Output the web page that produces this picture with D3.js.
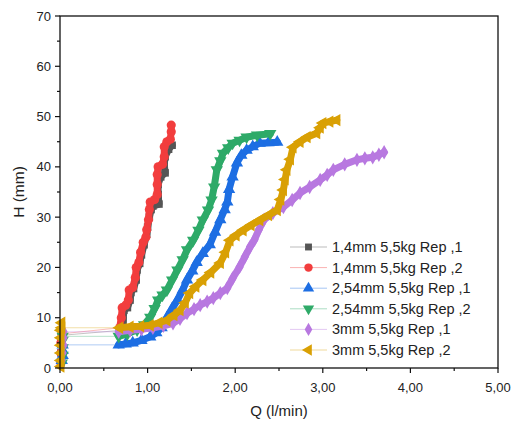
<!DOCTYPE html>
<html>
<head>
<meta charset="utf-8">
<script src="https://cdn.jsdelivr.net/npm/d3@7"></script>
<style>
  body { margin: 0; background: #fff; }
  text { font-family: "Liberation Sans", Arial, sans-serif; fill: #222; }
</style>
</head>
<body>
<div id="chart"></div>
<script>
// 시리즈 이름
const seriesNames = [
    '1,4mm 5,5kg Rep ,1',
    '1,4mm 5,5kg Rep ,2',
    '2,54mm 5,5kg Rep ,1',
    '2,54mm 5,5kg Rep ,2',
    '3mm 5,5kg Rep ,1',
    '3mm 5,5kg Rep ,2'
];

// 각 시리즈 데이터 [Q, H]
const rep14_1 = [
    [0.01, 1.0], [0.01, 3.0], [0.01, 5.0], [0.02, 6.5],
    [0.70, 7.5], [0.72, 9.5], [0.73, 11.5], [0.77, 12.0], [0.80, 13.5], [0.81, 15.0],
    [0.84, 15.8], [0.87, 17.5], [0.88, 19.5], [0.91, 20.8], [0.93, 22.5], [0.96, 24.5],
    [0.99, 26.6], [1.00, 28.0], [1.02, 30.0], [1.04, 31.5], [1.06, 32.2], [1.13, 32.6],
    [1.12, 34.5], [1.12, 36.5], [1.15, 38.0], [1.20, 38.8], [1.19, 40.5], [1.20, 42.0],
    [1.24, 43.5], [1.28, 44.3]
];
const rep14_2 = [
    [0.01, 1.0], [0.01, 3.0], [0.01, 5.0], [0.02, 6.8],
    [0.68, 8.0], [0.70, 10.0], [0.71, 12.0], [0.75, 12.5], [0.78, 13.5], [0.79, 15.5],
    [0.83, 16.0], [0.86, 18.0], [0.87, 20.0], [0.90, 21.0], [0.92, 23.0], [0.95, 25.0],
    [0.98, 26.0], [0.99, 27.5], [1.01, 29.5], [1.02, 31.5], [1.03, 33.0], [1.08, 33.5],
    [1.11, 34.5], [1.11, 36.5], [1.11, 38.5], [1.12, 40.0], [1.17, 40.5], [1.19, 42.0],
    [1.19, 44.0], [1.22, 45.0], [1.26, 45.5], [1.27, 47.0], [1.27, 48.3]
];
const rep254_1 = [
    [0.02, 1.5], [0.03, 2.5], [0.03, 3.5], [0.03, 4.6],
    [0.67, 4.6], [0.75, 4.8], [0.83, 5.0], [0.93, 5.5], [1.03, 6.2], [1.10, 7.0],
    [1.16, 8.0], [1.22, 10.0], [1.28, 11.8], [1.34, 13.5], [1.40, 15.5], [1.45, 17.5],
    [1.51, 19.3], [1.56, 21.0], [1.63, 22.8], [1.71, 24.5], [1.77, 27.0], [1.83, 29.5],
    [1.88, 31.5], [1.91, 33.0], [1.93, 35.5], [1.97, 38.0], [2.02, 40.8], [2.07, 42.3],
    [2.13, 43.3], [2.20, 44.0], [2.28, 44.7], [2.38, 44.8], [2.48, 44.9]
];
const rep254_2 = [
    [0.02, 1.0], [0.03, 2.5], [0.03, 4.0], [0.03, 5.5], [0.03, 6.3],
    [0.67, 6.3], [0.77, 6.8], [0.88, 7.6], [0.96, 8.6], [1.03, 10.1], [1.08, 11.8],
    [1.12, 13.5], [1.17, 14.5], [1.22, 15.5], [1.28, 17.5], [1.34, 19.5], [1.40, 21.5],
    [1.45, 23.5], [1.52, 25.4], [1.58, 27.4], [1.63, 29.4], [1.69, 31.4], [1.73, 33.4],
    [1.76, 36.0], [1.79, 39.4], [1.83, 41.2], [1.86, 42.7], [1.92, 43.8], [1.97, 44.7],
    [2.05, 45.3], [2.13, 45.9], [2.25, 46.3], [2.40, 46.6]
];
const rep3_1 = [
    [0.02, 1.5], [0.03, 3.0], [0.04, 4.5], [0.04, 6.0], [0.04, 7.2],
    [0.67, 7.2], [0.80, 7.5], [0.93, 7.7], [1.06, 8.0], [1.18, 8.4], [1.29, 8.9],
    [1.37, 9.8], [1.45, 10.9], [1.53, 11.7], [1.60, 12.5], [1.68, 13.2], [1.75, 13.9],
    [1.83, 14.9], [1.91, 15.9], [1.97, 17.8], [2.05, 20.1], [2.11, 22.1], [2.17, 24.1],
    [2.22, 25.5], [2.27, 27.5], [2.33, 29.5], [2.43, 30.8], [2.55, 32.0], [2.65, 33.4],
    [2.74, 34.8], [2.85, 36.0], [2.97, 37.4], [3.05, 38.4], [3.12, 39.4], [3.25, 40.5],
    [3.39, 41.4], [3.48, 41.7], [3.57, 41.9], [3.64, 42.4], [3.70, 42.9]
];
const rep3_2 = [
    [0.01, 0.3], [0.01, 1.5], [0.01, 3.0], [0.01, 4.5], [0.01, 6.0], [0.01, 7.5],
    [0.02, 9.0], [0.02, 8.0],
    [0.68, 8.0], [0.80, 8.2], [0.92, 8.3], [1.03, 8.5], [1.13, 9.0], [1.22, 9.5],
    [1.30, 10.5], [1.37, 11.5], [1.43, 13.0], [1.48, 14.9], [1.55, 16.2], [1.63, 17.5],
    [1.72, 19.0], [1.83, 20.9], [1.89, 23.0], [1.94, 25.4], [2.01, 26.4], [2.09, 27.4],
    [2.18, 28.4], [2.28, 29.4], [2.38, 30.4], [2.48, 31.4], [2.52, 33.5], [2.55, 35.4],
    [2.57, 37.5], [2.59, 39.4], [2.63, 41.5], [2.66, 43.9], [2.74, 45.0], [2.82, 45.9],
    [2.93, 46.7], [2.97, 47.8], [3.00, 48.7], [3.08, 49.0], [3.16, 49.3]
];

// 눈금 라벨
const xTicks = [0, 1, 2, 3, 4, 5];
const xTickLabels = ['0,00', '1,00', '2,00', '3,00', '4,00', '5,00'];
const yTicks = [0, 10, 20, 30, 40, 50, 60, 70];

const allSeries = [rep14_1, rep14_2, rep254_1, rep254_2, rep3_1, rep3_2];
const colors = ['#555555', '#f23d3d', '#1d6ee3', '#2eaa68', '#b878e0', '#d9a004'];
const shapes = ['square', 'circle', 'up', 'down', 'diamond', 'left'];

const W = 514, H = 425;
const margin = { left: 60, right: 16, top: 16, bottom: 57 };

const svg = d3.select('#chart').append('svg')
    .attr('width', W)
    .attr('height', H);

const x = d3.scaleLinear().domain([0, 5]).range([margin.left, W - margin.right]);
const y = d3.scaleLinear().domain([0, 70]).range([H - margin.bottom, margin.top]);

// 마커 모양
function markerPath(shape, size) {
    if (shape === 'square') return d3.symbol(d3.symbolSquare, size * 0.85)();
    if (shape === 'circle') return d3.symbol(d3.symbolCircle, size)();
    if (shape === 'diamond') return d3.symbol(d3.symbolDiamond, size * 0.9)();
    return d3.symbol(d3.symbolTriangle, size)();
}
function markerRotate(shape) {
    if (shape === 'down') return 180;
    if (shape === 'left') return -90;
    return 0;
}

const plot = svg.append('g');
const line = d3.line().x(d => x(d[0])).y(d => y(d[1]));

allSeries.forEach((data, i) => {
    // 얇은 연결선
    plot.append('path')
        .datum(data)
        .attr('d', line)
        .attr('fill', 'none')
        .attr('stroke', colors[i])
        .attr('stroke-opacity', 0.35)
        .attr('stroke-width', 1);

    // 촘촘한 마커 띠 (Q > 0.5 부분)
    plot.append('path')
        .datum(data.filter(d => d[0] > 0.5))
        .attr('d', line)
        .attr('fill', 'none')
        .attr('stroke', colors[i])
        .attr('stroke-width', 7)
        .attr('stroke-linejoin', 'round')
        .attr('stroke-linecap', 'round');

    // 마커
    plot.selectAll(null)
        .data(data)
        .enter()
        .append('path')
        .attr('d', markerPath(shapes[i], 66))
        .attr('transform', d => `translate(${x(d[0])},${y(d[1])}) rotate(${markerRotate(shapes[i])})`)
        .attr('fill', colors[i]);
});

// 프레임
svg.append('rect')
    .attr('x', margin.left)
    .attr('y', margin.top)
    .attr('width', W - margin.left - margin.right)
    .attr('height', H - margin.top - margin.bottom)
    .attr('fill', 'none')
    .attr('stroke', '#111')
    .attr('stroke-width', 1.3);

// x 축
const xAxis = svg.append('g').attr('transform', `translate(0,${H - margin.bottom})`);
xAxis.selectAll('line.minor')
    .data(d3.range(0.5, 5, 1))
    .enter().append('line')
    .attr('x1', d => x(d)).attr('x2', d => x(d))
    .attr('y1', 0).attr('y2', 3)
    .attr('stroke', '#111').attr('stroke-width', 1.2);
xAxis.selectAll('line.major')
    .data(xTicks)
    .enter().append('line')
    .attr('x1', d => x(d)).attr('x2', d => x(d))
    .attr('y1', 0).attr('y2', 5)
    .attr('stroke', '#111').attr('stroke-width', 1.2);
xAxis.selectAll('text')
    .data(xTicks)
    .enter().append('text')
    .attr('x', d => x(d))
    .attr('y', 24)
    .attr('text-anchor', 'middle')
    .attr('font-size', '13px')
    .text((d, i) => xTickLabels[i]);

// y 축
const yAxis = svg.append('g').attr('transform', `translate(${margin.left},0)`);
yAxis.selectAll('line.minor')
    .data(d3.range(5, 70, 10))
    .enter().append('line')
    .attr('x1', 0).attr('x2', -3)
    .attr('y1', d => y(d)).attr('y2', d => y(d))
    .attr('stroke', '#111').attr('stroke-width', 1.2);
yAxis.selectAll('line.major')
    .data(yTicks)
    .enter().append('line')
    .attr('x1', 0).attr('x2', -5)
    .attr('y1', d => y(d)).attr('y2', d => y(d))
    .attr('stroke', '#111').attr('stroke-width', 1.2);
yAxis.selectAll('text')
    .data(yTicks)
    .enter().append('text')
    .attr('x', -9)
    .attr('y', d => y(d) + 4.5)
    .attr('text-anchor', 'end')
    .attr('font-size', '13px')
    .text(d => d);

// 축 제목
svg.append('text')
    .attr('x', x(2.5))
    .attr('y', 416)
    .attr('text-anchor', 'middle')
    .attr('font-size', '15px')
    .text('Q (l/min)');
svg.append('text')
    .attr('transform', `translate(24,${y(35)}) rotate(-90)`)
    .attr('text-anchor', 'middle')
    .attr('font-size', '15.5px')
    .text('H (mm)');

// 범례
const legend = svg.append('g').attr('transform', 'translate(290,247)');
seriesNames.forEach((name, i) => {
    const row = legend.append('g').attr('transform', `translate(0,${i * 20.6})`);
    row.append('line')
        .attr('x1', 0).attr('x2', 37)
        .attr('y1', 0).attr('y2', 0)
        .attr('stroke', colors[i])
        .attr('stroke-opacity', 0.4)
        .attr('stroke-width', 1);
    row.append('path')
        .attr('d', markerPath(shapes[i], 56))
        .attr('transform', `translate(18.5,0) rotate(${markerRotate(shapes[i])})`)
        .attr('fill', colors[i]);
    row.append('text')
        .attr('x', 42)
        .attr('y', 5)
        .attr('font-size', '14.5px')
        .text(name);
});
</script>
</body>
</html>
